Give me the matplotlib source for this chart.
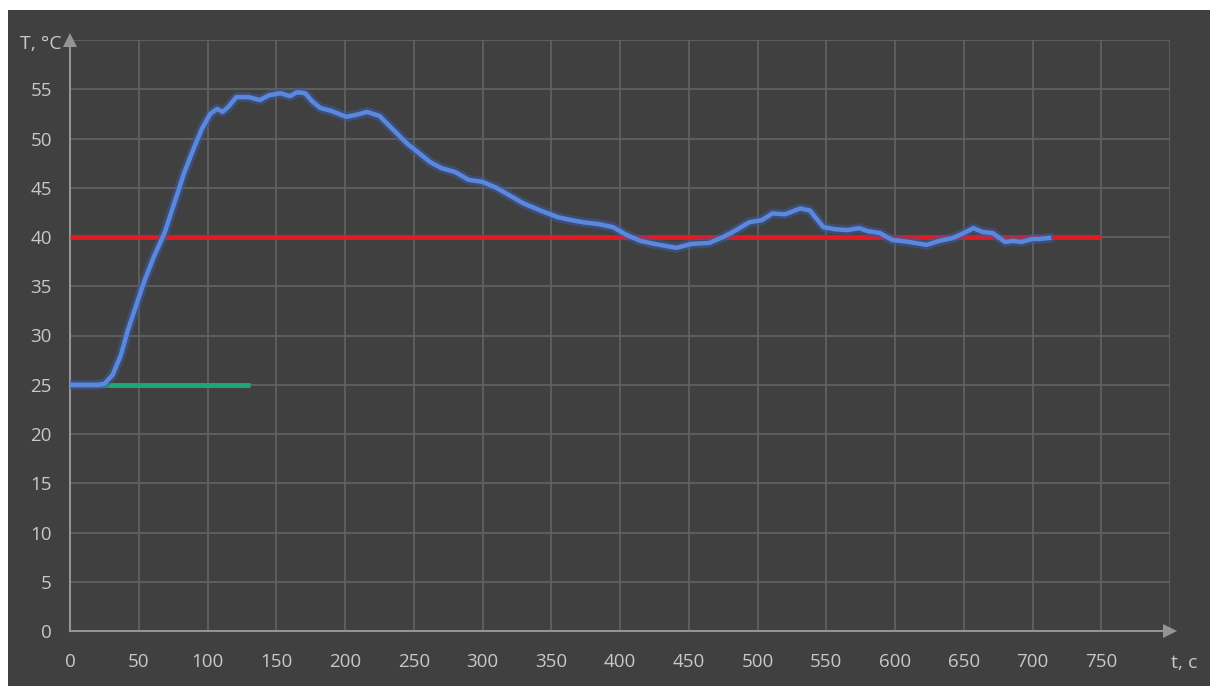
import matplotlib
matplotlib.use("Agg")
import matplotlib.pyplot as plt
from matplotlib.patches import Rectangle
import matplotlib.patheffects as pe

# ---- data ----
t_vals = [0, 10, 20, 25, 31, 37, 42, 48, 54, 61, 69, 76, 83, 90, 96, 102, 107, 111,
          115, 121, 130, 138, 145, 153, 160, 165, 171, 176, 182, 190, 201, 208, 216,
          225, 235, 245, 254, 262, 270, 280, 290, 300, 310, 320, 330, 342, 355, 365,
          373, 385, 395, 405, 415, 425, 441, 452, 465, 475, 482, 494, 503, 511, 520,
          531, 538, 548, 556, 565, 574, 580, 589, 598, 610, 623, 632, 642, 650, 657,
          664, 671, 680, 686, 692, 700, 705, 712]
T_vals = [25, 25, 25, 25.1, 26, 28, 30.5, 33, 35.5, 38, 40.5, 43.5, 46.5, 49, 51,
          52.5, 53, 52.7, 53.2, 54.2, 54.2, 53.9, 54.4, 54.6, 54.3, 54.7, 54.6, 53.8,
          53.1, 52.8, 52.2, 52.4, 52.7, 52.3, 50.9, 49.5, 48.5, 47.6, 47.0, 46.6, 45.8,
          45.6, 45.0, 44.2, 43.4, 42.7, 42.0, 41.7, 41.5, 41.3, 41.0, 40.2, 39.6, 39.3,
          38.9, 39.3, 39.4, 40.0, 40.5, 41.5, 41.7, 42.4, 42.3, 42.9, 42.7, 41.0, 40.8,
          40.7, 40.9, 40.6, 40.4, 39.7, 39.5, 39.2, 39.6, 39.9, 40.4, 40.9, 40.5, 40.4,
          39.5, 39.6, 39.5, 39.8, 39.8, 39.9]
setpoint_t = [0, 750]
setpoint_T = [40, 40]
initial_t = [0, 131]
initial_T = [25, 25]
x_ticks = [0, 50, 100, 150, 200, 250, 300, 350, 400, 450, 500, 550, 600, 650, 700, 750]
y_ticks = [0, 5, 10, 15, 20, 25, 30, 35, 40, 45, 50, 55]
x_label = "t, c"
y_label = "T, °C"

BG = "#404040"
GRID = "#636363"
AXIS = "#949494"
TXT = "#c8c8c8"

plt.rcParams['font.family'] = ['Open Sans', 'DejaVu Sans']

fig = plt.figure(figsize=(12.10, 6.86), dpi=100)
fig.patch.set_facecolor("white")
fig.add_artist(Rectangle((8 / 1210, 0), 1 - 8 / 1210, 1 - 10 / 686,
                         transform=fig.transFigure, facecolor=BG,
                         edgecolor="none", zorder=0))

ax = fig.add_axes([70 / 1210, 1 - 631 / 686, 1100 / 1210, 591 / 686])
ax.set_facecolor(BG)
ax.set_xlim(0, 800)
ax.set_ylim(0, 60)

ax.set_xticks(list(range(0, 801, 50)))
ax.set_yticks(list(range(0, 61, 5)))
ax.grid(True, color=GRID, linewidth=1.2)
ax.set_axisbelow(True)
ax.set_xticklabels([str(v) if v in x_ticks else "" for v in range(0, 801, 50)])
ax.set_yticklabels([str(v) if v in y_ticks else "" for v in range(0, 61, 5)])
ax.tick_params(axis="both", length=0, colors=TXT, labelsize=13.5)
ax.tick_params(axis="x", pad=16)
ax.tick_params(axis="y", pad=13)

for s in ["top", "right"]:
    ax.spines[s].set_visible(False)
for s in ["left", "bottom"]:
    ax.spines[s].set_color(AXIS)
    ax.spines[s].set_linewidth(1.5)

# arrows
ax.plot(800, 0, marker=">", color=AXIS, markersize=10, clip_on=False, zorder=5,
        markeredgewidth=0)
ax.plot(0, 60, marker="^", color=AXIS, markersize=10, clip_on=False, zorder=5,
        markeredgewidth=0)

ax.plot(initial_t, initial_T, color="#1fa877", linewidth=3.5, zorder=3,
        solid_capstyle="butt")
ax.plot(setpoint_t, setpoint_T, color="#e11b22", linewidth=3.5, zorder=3,
        solid_capstyle="butt")
ax.plot(t_vals, T_vals, color="#5b87dd", linewidth=3.2, zorder=4,
        solid_joinstyle="round",
        path_effects=[pe.Stroke(linewidth=7, foreground="#3c5aa0", alpha=0.55),
                      pe.Normal()])

ax.text(-6, 59.6, y_label, color=TXT, fontsize=14, ha="right", va="center",
        clip_on=False)
ax.text(810, -3.2, x_label, color=TXT, fontsize=14, ha="center", va="center",
        clip_on=False)

fig.savefig("out.png", dpi=100, facecolor=fig.get_facecolor())
